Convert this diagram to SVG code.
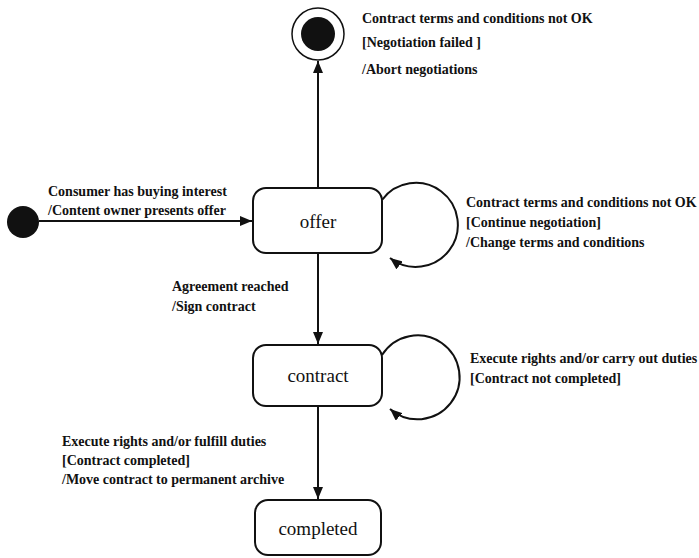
<svg xmlns="http://www.w3.org/2000/svg" width="699" height="558" viewBox="0 0 699 558">
<style>
.node{fill:#fff;stroke:#111;stroke-width:2}
.lbl{font-family:'Liberation Serif','Times New Roman','DejaVu Serif',serif;font-size:19px;fill:#111;text-anchor:middle}
.t{font-family:'Liberation Serif','Times New Roman','DejaVu Serif',serif;font-size:14px;fill:#111;font-weight:bold}
.c{fill:none;stroke:#111;stroke-width:2}
</style>
<defs>
<marker id="arr" viewBox="0 0 12 10" refX="12" refY="5" markerWidth="12" markerHeight="10" markerUnits="userSpaceOnUse" orient="auto">
<path d="M0,0 L12,5 L0,10 Z" fill="#111"/>
</marker>
</defs>
<rect width="699" height="558" fill="#fff"/>
<g id="connectors">
<line class="c" x1="39" y1="221" x2="252" y2="221" marker-end="url(#arr)"/>
<line class="c" x1="318" y1="188" x2="318" y2="61" marker-end="url(#arr)"/>
<path class="c" d="M382,200 A42,42 0 1 1 390,258" marker-end="url(#arr)"/>
<line class="c" x1="318" y1="253" x2="318" y2="344" marker-end="url(#arr)"/>
<path class="c" d="M382,355 A42,42 0 1 1 390,409" marker-end="url(#arr)"/>
<line class="c" x1="318" y1="406" x2="318" y2="499" marker-end="url(#arr)"/>
<g id="labels">
<text class="t" x="48" y="196">Consumer has buying interest</text>
<text class="t" x="48" y="215">/Content owner presents offer</text>
<text class="t" x="362" y="23">Contract terms and conditions not OK</text>
<text class="t" x="362" y="47">[Negotiation failed ]</text>
<text class="t" x="362" y="74">/Abort negotiations</text>
<text class="t" x="466" y="207">Contract terms and conditions not OK</text>
<text class="t" x="466" y="227">[Continue negotiation]</text>
<text class="t" x="466" y="247">/Change terms and conditions</text>
<text class="t" x="172" y="291">Agreement reached</text>
<text class="t" x="172" y="311">/Sign contract</text>
<text class="t" x="470" y="363">Execute rights and/or carry out duties</text>
<text class="t" x="470" y="383">[Contract not completed]</text>
<text class="t" x="62" y="446">Execute rights and/or fulfill duties</text>
<text class="t" x="62" y="465">[Contract completed]</text>
<text class="t" x="62" y="484">/Move contract to permanent archive</text>
</g>
</g>
<g id="initial">
<circle cx="23" cy="222" r="16" fill="#111"/>
</g>
<g id="final">
<circle cx="318" cy="34" r="26" fill="#fff" stroke="#111" stroke-width="1.5"/>
<circle cx="318" cy="34" r="17" fill="#111"/>
</g>
<g id="offer">
<rect class="node" x="253" y="188" width="129" height="65" rx="13"/>
<text class="lbl" x="318" y="228">offer</text>
</g>
<g id="contract">
<rect class="node" x="253" y="345" width="129" height="61" rx="13"/>
<text class="lbl" x="318" y="382">contract</text>
</g>
<g id="completed">
<rect class="node" x="255" y="500" width="126" height="55" rx="13"/>
<text class="lbl" x="318" y="535">completed</text>
</g>
</svg>
